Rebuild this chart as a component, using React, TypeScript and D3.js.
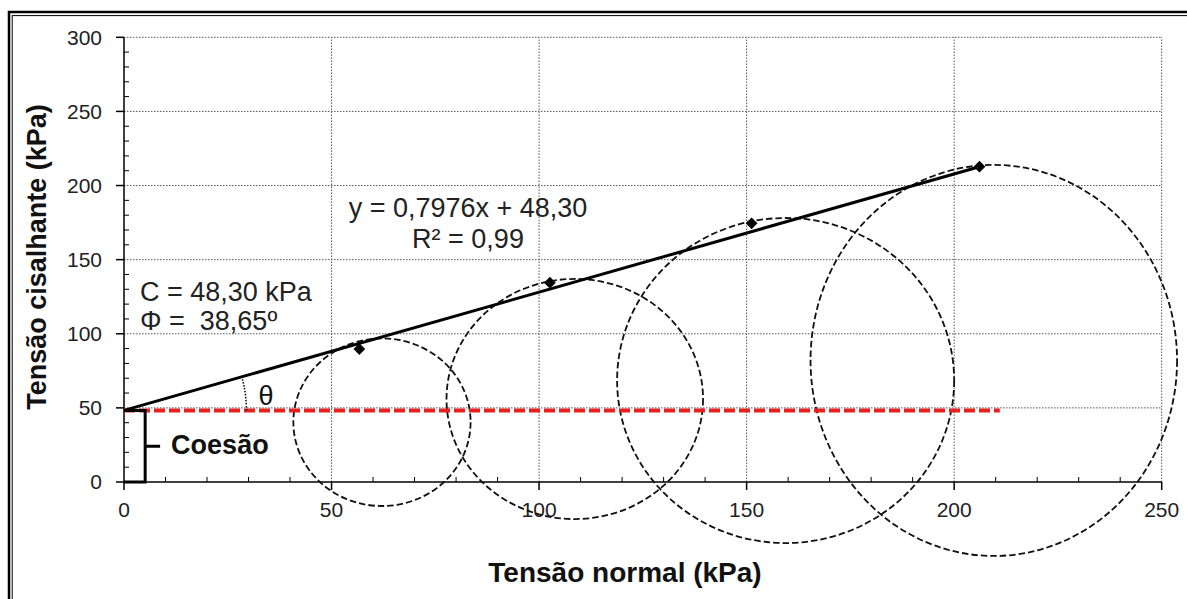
import React from 'react';
import * as d3 from 'd3';

// Direct shear test results: normal stress (kPa) vs. shear stress at failure (kPa)
const normalStress = [56.7, 102.6, 151.2, 206.1];
const shearStress = [89.7, 134.5, 174.5, 212.7];

// Linear failure envelope (Mohr–Coulomb fit)
const slope = 0.7976;
const cohesion = 48.3;
const phiDeg = 38.65;
const rSquared = 0.99;

// Sketched Mohr circles, given by their extents in stress units
const circleSigmaMin = [40.8, 77.7, 118.8, 165.4];
const circleSigmaMax = [83.5, 139.5, 200.0, 253.7];
const circleTauMin = [-16.2, -25.0, -41.2, -49.9];
const circleTauMax = [96.9, 137.0, 178.1, 213.9];

const xTicks = [0, 50, 100, 150, 200, 250];
const yTicks = [0, 50, 100, 150, 200, 250, 300];
const cohesionLineEnd = 211; // σ where the dashed cohesion line stops
const thetaArcRadius = 29.5; // arc radius, measured along σ
const bracketSigma = 5.1; // σ of the "Coesão" bracket
const bracketTick = 8.7;

const W = 1187;
const H = 599;
const FONT = "'Liberation Sans', Arial, sans-serif";

const fmt = (v: number, d: number) => v.toFixed(d).replace('.', ',');

export default function App() {
  const x = d3.scaleLinear().domain([0, 250]).range([124, 1161.7]);
  const y = d3.scaleLinear().domain([0, 300]).range([482, 37.3]);

  const minorX = d3.range(0, 251, 10).filter((v) => v % 50 !== 0);
  const minorY = d3.range(0, 301, 10).filter((v) => v % 50 !== 0);

  const xEnd = d3.max(normalStress) as number;
  const envelope = d3.line<number>().x((d) => x(d)).y((d) => y(slope * d + cohesion));

  const diamond = d3.symbol().type(d3.symbolDiamond2).size(88)() as string;

  // θ arc: centred at the intercept, from the horizontal up to the envelope
  const ox = x(0);
  const oy = y(cohesion);
  const rPx = x(thetaArcRadius) - x(0);
  const lineAngle = Math.atan2(y(cohesion) - y(slope * 100 + cohesion), x(100) - x(0));
  const arcPath = `M${ox + rPx},${oy} A${rPx},${rPx} 0 0 0 ${ox + rPx * Math.cos(lineAngle)},${oy - rPx * Math.sin(lineAngle)}`;

  const eqText = `y = ${fmt(slope, 4)}x + ${fmt(cohesion, 2)}`;
  const r2Text = `R² = ${fmt(rSquared, 2)}`;
  const cText = `C = ${fmt(cohesion, 2)} kPa`;
  const phiText = `Φ =  ${fmt(phiDeg, 2)}º`;

  const bx = x(bracketSigma);

  return (
    <svg
      width={W}
      height={H}
      style={{ position: 'absolute', left: 0, top: 0, background: '#fff' }}
      fontFamily={FONT}
    >
      {/* outer double frame */}
      <rect x={9} y={12} width={1250} height={700} fill="none" stroke="#000" strokeWidth={2.5} />
      <rect x={12.2} y={15.6} width={1250} height={700} fill="none" stroke="#000" strokeWidth={1} />

      {/* grid */}
      <g stroke="#555" strokeWidth={1} strokeDasharray="1.5 1.5">
        {xTicks.filter((v) => v > 0).map((v) => (
          <line key={'gx' + v} x1={x(v)} x2={x(v)} y1={y(0)} y2={y(300)} />
        ))}
        {yTicks.filter((v) => v > 0).map((v) => (
          <line key={'gy' + v} x1={x(0)} x2={x(250)} y1={y(v)} y2={y(v)} />
        ))}
      </g>

      {/* axes */}
      <g stroke="#000" strokeWidth={1.5}>
        <line x1={x(0)} x2={x(0)} y1={y(0)} y2={y(300)} />
        <line x1={x(0)} x2={x(250)} y1={y(0)} y2={y(0)} />
        {yTicks.map((v) => (
          <line key={'ty' + v} x1={x(0) - 8} x2={x(0)} y1={y(v)} y2={y(v)} />
        ))}
        {xTicks.map((v) => (
          <line key={'tx' + v} x1={x(v)} x2={x(v)} y1={y(0)} y2={y(0) + 8} />
        ))}
      </g>
      <g stroke="#000" strokeWidth={1}>
        {minorY.map((v) => (
          <line key={'my' + v} x1={x(0)} x2={x(0) + 5} y1={y(v)} y2={y(v)} />
        ))}
        {minorX.map((v) => (
          <line key={'mx' + v} x1={x(v)} x2={x(v)} y1={y(0)} y2={y(0) - 5} />
        ))}
      </g>

      {/* tick labels */}
      <g fontSize={21} fill="#222">
        {yTicks.map((v) => (
          <text key={'ly' + v} x={x(0) - 22} y={y(v)} dy="0.35em" textAnchor="end">
            {v}
          </text>
        ))}
        {xTicks.map((v) => (
          <text key={'lx' + v} x={x(v)} y={y(0) + 35} textAnchor="middle">
            {v}
          </text>
        ))}
      </g>

      {/* Mohr circles */}
      <g fill="none" stroke="#111" strokeWidth={1.8} strokeDasharray="6.5 3">
        {circleSigmaMin.map((s0, i) => {
          const x0 = x(s0);
          const x1 = x(circleSigmaMax[i]);
          const yTop = y(circleTauMax[i]);
          const yBot = y(circleTauMin[i]);
          return (
            <ellipse
              key={'c' + i}
              cx={(x0 + x1) / 2}
              cy={(yTop + yBot) / 2}
              rx={(x1 - x0) / 2}
              ry={(yBot - yTop) / 2}
            />
          );
        })}
      </g>

      {/* cohesion level */}
      <line
        x1={x(0)}
        x2={x(cohesionLineEnd)}
        y1={y(cohesion)}
        y2={y(cohesion)}
        stroke="#e8211e"
        strokeWidth={4}
        strokeDasharray="11 4"
      />

      {/* failure envelope */}
      <path d={envelope([0, xEnd]) as string} fill="none" stroke="#000" strokeWidth={3} />

      {/* measured points */}
      {normalStress.map((s, i) => (
        <path key={'p' + i} d={diamond} transform={`translate(${x(s)},${y(shearStress[i])})`} fill="#000" />
      ))}

      {/* θ arc */}
      <path d={arcPath} fill="none" stroke="#000" strokeWidth={1.5} strokeDasharray="1.5 1.5" />
      <text x={ox + rPx + 12} y={oy - 5} fontSize={27} fill="#111">
        θ
      </text>

      {/* cohesion bracket */}
      <path
        d={`M${x(0)},${y(cohesion)} H${bx} V${y(0)} H${x(0)} M${bx},${y(cohesion / 2)} H${x(bracketTick)}`}
        fill="none"
        stroke="#000"
        strokeWidth={3}
      />
      <text x={x(bracketTick) + 11} y={y(cohesion / 2) + 8} fontSize={27} fontWeight="bold" fill="#111">
        Coesão
      </text>

      {/* annotations */}
      <text x={140} y={301} fontSize={27} fill="#222" style={{ whiteSpace: 'pre' }}>
        {cText}
      </text>
      <text x={140} y={330} fontSize={27} fill="#222" style={{ whiteSpace: 'pre' }}>
        {phiText}
      </text>
      <text x={468} y={217} fontSize={27} fill="#222" textAnchor="middle">
        {eqText}
      </text>
      <text x={468} y={248} fontSize={27} fill="#222" textAnchor="middle">
        {r2Text}
      </text>

      {/* axis titles */}
      <text x={625} y={582} fontSize={28} fontWeight="bold" fill="#111" textAnchor="middle">
        Tensão normal (kPa)
      </text>
      <text
        transform={`translate(46,257) rotate(-90)`}
        fontSize={27}
        fontWeight="bold"
        fill="#111"
        textAnchor="middle"
      >
        Tensão cisalhante (kPa)
      </text>
    </svg>
  );
}
